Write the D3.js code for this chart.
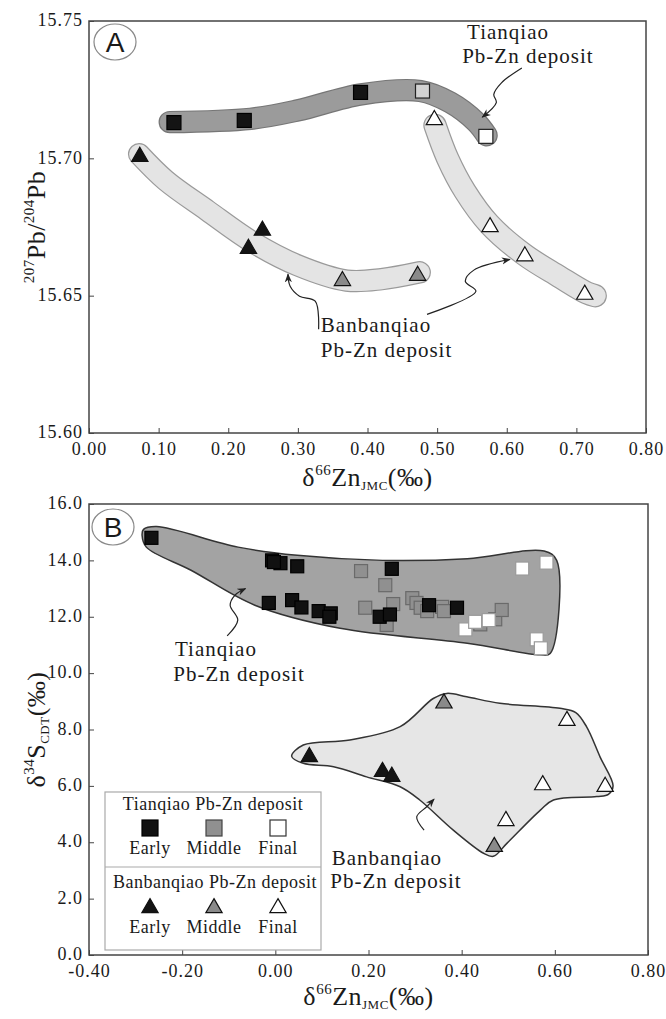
<!DOCTYPE html>
<meta charset="utf-8">
<style>
body { margin: 0; background: #fff; }
text { font-family: "Liberation Serif", "Times New Roman", serif; fill: #1a1a1a; }
.tick text { font-size: 18px; letter-spacing: 1px; fill: #1a1a1a; }
.tick line { stroke: #444; }
.frame { fill: none; stroke: #444; stroke-width: 1.5px; }
.note { font-size: 21px; letter-spacing: 1px; }
.arrow { fill: none; stroke: #222; stroke-width: 1.2px; }
.title { font-size: 26px; letter-spacing: 0.5px; }
.panel text { font-family: "Liberation Sans", Arial, sans-serif; font-size: 28px; }
.legend text { font-size: 18px; letter-spacing: 0.5px; }
</style>
<body>
<svg width="666" height="1019"></svg>
<script src="https://d3js.org/d3.v7.min.js"></script>
<script>

// ---- panel A : d66Zn vs 207Pb/204Pb ----
var aTqEarly  = [[0.122, 15.7130], [0.223, 15.7138], [0.390, 15.7240]];
var aTqMiddle = [[0.479, 15.7245]];
var aTqFinal  = [[0.570, 15.7080]];
var aBbEarly  = [[0.073, 15.7006], [0.229, 15.6671], [0.249, 15.6737]];
var aBbMiddle = [[0.364, 15.6554], [0.472, 15.6573]];
var aBbFinal  = [[0.496, 15.7140], [0.576, 15.6750], [0.626, 15.6644], [0.712, 15.6504]];

// field bands (centre lines)
var aTqBand  = [[0.116, 15.7132], [0.232, 15.7144], [0.299, 15.7174], [0.391, 15.7233],
                [0.476, 15.7245], [0.519, 15.7203], [0.556, 15.7132], [0.571, 15.7084]];
var aBbBand1 = [[0.072, 15.7015], [0.11, 15.692], [0.17, 15.681], [0.235, 15.6695],
                [0.30, 15.661], [0.37, 15.6555], [0.42, 15.656], [0.475, 15.6585]];
var aBbBand2 = [[0.497, 15.712], [0.515, 15.700], [0.54, 15.688], [0.575, 15.676],
                [0.625, 15.665], [0.675, 15.657], [0.715, 15.651], [0.727, 15.650]];

var aXTicks = [0, 0.1, 0.2, 0.3, 0.4, 0.5, 0.6, 0.7, 0.8];
var aYTicks = [15.60, 15.65, 15.70, 15.75];

// ---- panel B : d66Zn vs d34S ----
var bTqEarly = [[-0.266, 14.8], [-0.007, 14.0], [0.011, 13.9], [-0.003, 13.94], [0.047, 13.79],
                [0.25, 13.7], [-0.014, 12.49], [0.036, 12.59], [0.056, 12.33], [0.093, 12.2],
                [0.119, 12.12], [0.116, 12.0], [0.224, 12.0], [0.246, 12.08], [0.33, 12.41], [0.39, 12.32]];
var bTqMiddle = [[0.184, 13.62], [0.236, 13.12], [0.193, 12.32], [0.253, 12.45], [0.239, 11.71],
                 [0.294, 12.66], [0.303, 12.49], [0.312, 12.32], [0.326, 12.2], [0.358, 12.35],
                 [0.362, 12.2], [0.44, 11.73], [0.472, 11.91], [0.486, 12.24]];
var bTqFinal = [[0.408, 11.55], [0.429, 11.82], [0.458, 11.88], [0.53, 13.71], [0.582, 13.92],
                [0.561, 11.2], [0.57, 10.88]];
var bBbEarly  = [[0.073, 7.03], [0.23, 6.5], [0.25, 6.33]];
var bBbMiddle = [[0.362, 8.93], [0.47, 3.84]];
var bBbFinal  = [[0.495, 4.76], [0.574, 6.03], [0.626, 8.31], [0.708, 5.97]];

var bTqHull = [[-0.286, 14.88], [-0.283, 15.1], [-0.255, 15.2], [-0.08, 14.47], [0.047, 14.18],
               [0.23, 14.0], [0.412, 14.06], [0.577, 14.33], [0.604, 14.0], [0.59, 10.7],
               [0.568, 10.65], [0.412, 11.06], [0.139, 11.59], [-0.044, 12.41], [-0.181, 13.65],
               [-0.277, 14.47]];
var bBbHull = [[0.035, 7.05], [0.06, 7.45], [0.16, 7.63], [0.268, 8.1], [0.339, 9.1], [0.368, 9.28],
               [0.411, 9.16], [0.482, 8.93], [0.611, 8.75], [0.645, 8.6], [0.668, 8.1], [0.697, 7.03],
               [0.725, 6.0], [0.715, 5.7], [0.69, 5.62], [0.597, 5.5], [0.569, 5.14], [0.497, 3.96],
               [0.468, 3.5], [0.447, 3.61], [0.382, 4.43], [0.31, 5.5], [0.268, 5.97], [0.196, 6.32],
               [0.125, 6.68], [0.06, 6.8]];

var bXTicks = [-0.4, -0.2, 0, 0.2, 0.4, 0.6, 0.8];
var bYTicks = [0, 2, 4, 6, 8, 10, 12, 14, 16];

var stages = ["Early", "Middle", "Final"];

var svg = d3.select("svg");

var xA = d3.scaleLinear().domain([0, 0.8]).range([89, 646]);
var yA = d3.scaleLinear().domain([15.60, 15.75]).range([433, 21]);
var xB = d3.scaleLinear().domain([-0.4, 0.8]).range([89, 648]);
var yB = d3.scaleLinear().domain([0, 16]).range([955, 504]);

var defs = svg.append("defs");
defs.append("marker")
    .attr("id", "ah")
    .attr("viewBox", "0 0 10 10")
    .attr("refX", 9).attr("refY", 5)
    .attr("markerWidth", 9).attr("markerHeight", 9)
    .attr("markerUnits", "userSpaceOnUse")
    .attr("orient", "auto")
  .append("path")
    .attr("d", "M0,1L10,5L0,9L3,5z")
    .attr("fill", "#222");

var tri = d3.symbol().type(d3.symbolTriangle).size(115);

function axes(x, y, xt, yt, xf, yf) {
  var g = svg.append("g");
  g.append("g")
      .attr("transform", "translate(0," + y.range()[0] + ")")
      .call(d3.axisBottom(x).tickValues(xt).tickSizeInner(-5).tickSizeOuter(0).tickPadding(9).tickFormat(xf))
      .call(function(s) { s.select(".domain").remove(); });
  g.append("g")
      .attr("transform", "translate(" + x.range()[0] + ",0)")
      .call(d3.axisLeft(y).tickValues(yt).tickSizeInner(-5).tickSizeOuter(0).tickPadding(6).tickFormat(yf))
      .call(function(s) { s.select(".domain").remove(); })
      .call(function(s) { s.selectAll(".tick text").attr("dy", "0.26em"); });
  g.selectAll("g").attr("font-family", null).attr("font-size", null);
  g.selectAll(".tick text").attr("fill", null);
  g.append("rect").attr("class", "frame")
      .attr("x", x.range()[0]).attr("y", y.range()[1])
      .attr("width", x.range()[1] - x.range()[0])
      .attr("height", y.range()[0] - y.range()[1]);
}

function panelTag(cx, cy, letter) {
  var g = svg.append("g").attr("class", "panel");
  g.append("ellipse").attr("cx", cx).attr("cy", cy).attr("rx", 21).attr("ry", 18)
      .attr("fill", "#fff").attr("stroke", "#888").attr("stroke-width", 1.2);
  g.append("text").attr("x", cx).attr("y", cy + 10).attr("text-anchor", "middle").text(letter);
}

function note(x, y, lines) {
  var t = svg.append("text").attr("class", "note");
  lines.forEach(function(l) {
    t.append("tspan").attr("x", x(l[0])).attr("y", y(l[1])).text(l[2]);
  });
}

function arrow(x, y, pts) {
  svg.append("path").attr("class", "arrow")
      .attr("d", d3.line().x(function(d) { return x(d[0]); }).y(function(d) { return y(d[1]); })
                  .curve(d3.curveCatmullRom.alpha(0.5))(pts))
      .attr("marker-end", "url(#ah)");
}

function squares(x, y, data, fill, stroke, s) {
  svg.append("g").selectAll("rect").data(data).enter().append("rect")
      .attr("x", function(d) { return x(d[0]) - s / 2; })
      .attr("y", function(d) { return y(d[1]) - s / 2; })
      .attr("width", s).attr("height", s)
      .attr("fill", fill).attr("stroke", stroke).attr("stroke-width", 1.2);
}

function triangles(x, y, data, fill) {
  svg.append("g").selectAll("path").data(data).enter().append("path")
      .attr("d", tri)
      .attr("transform", function(d) { return "translate(" + x(d[0]) + "," + y(d[1]) + ")"; })
      .attr("fill", fill).attr("stroke", "#111").attr("stroke-width", 1.2);
}

var f2 = function(d) { return d.toFixed(2); };
var f1 = function(d) { return d.toFixed(1); };

// ================= Panel A =================
axes(xA, yA, aXTicks, aYTicks, f2, f2);

var bandLineA = d3.line().x(function(d) { return xA(d[0]); }).y(function(d) { return yA(d[1]); })
    .curve(d3.curveCatmullRom.alpha(0.5));

function band(pts, w, fill, edge) {
  svg.append("path").attr("d", bandLineA(pts)).attr("fill", "none")
      .attr("stroke", edge).attr("stroke-width", w + 2.4)
      .attr("stroke-linecap", "round").attr("stroke-linejoin", "round");
  svg.append("path").attr("d", bandLineA(pts)).attr("fill", "none")
      .attr("stroke", fill).attr("stroke-width", w)
      .attr("stroke-linecap", "round").attr("stroke-linejoin", "round");
}
band(aBbBand1, 20, "#e4e4e4", "#9a9a9a");
band(aBbBand2, 21, "#e4e4e4", "#9a9a9a");
band(aTqBand, 20, "#9b9b9b", "#767676");

squares(xA, yA, aTqEarly, "#141414", "#000", 14);
squares(xA, yA, aTqMiddle, "#d2d2d2", "#222", 14);
squares(xA, yA, aTqFinal, "#fff", "#222", 14);
triangles(xA, yA, aBbEarly, "#141414");
triangles(xA, yA, aBbMiddle, "#8a8a8a");
triangles(xA, yA, aBbFinal, "#fff");

note(xA, yA, [[0.543, 15.7434, "Tianqiao"], [0.536, 15.7347, "Pb-Zn deposit"]]);
note(xA, yA, [[0.333, 15.6366, "Banbanqiao"], [0.333, 15.6278, "Pb-Zn deposit"]]);
arrow(xA, yA, [[0.6217, 15.7329], [0.5924, 15.7275], [0.5814, 15.7233], [0.585, 15.7203], [0.5649, 15.715]]);
arrow(xA, yA, [[0.3298, 15.6378], [0.3249, 15.648], [0.3023, 15.6498], [0.2889, 15.6534], [0.2858, 15.6578]]);
arrow(xA, yA, [[0.4855, 15.6432], [0.5557, 15.6516], [0.5405, 15.6552], [0.5527, 15.6593], [0.6046, 15.6632]]);

panelTag(115, 42, "A");

// axis titles A
var tA = svg.append("text").attr("class", "title").attr("text-anchor", "middle")
    .attr("x", (xA.range()[0] + xA.range()[1]) / 2).attr("y", 486);
tA.append("tspan").text("δ");
tA.append("tspan").attr("font-size", 15).attr("dy", -11).text("66");
tA.append("tspan").attr("dy", 11).text("Zn");
tA.append("tspan").attr("font-size", 13).attr("dy", 4).text("JMC");
tA.append("tspan").attr("dy", -4).text("(‰)");

var yTA = svg.append("text").attr("class", "title").attr("text-anchor", "middle")
    .attr("transform", "translate(45," + (yA.range()[0] + yA.range()[1]) / 2 + ") rotate(-90)");
yTA.append("tspan").attr("font-size", 15).attr("dy", -11).text("207");
yTA.append("tspan").attr("dy", 11).text("Pb/");
yTA.append("tspan").attr("font-size", 15).attr("dy", -11).text("204");
yTA.append("tspan").attr("dy", 11).text("Pb");

// ================= Panel B =================
axes(xB, yB, bXTicks, bYTicks, f2, f1);

var hullLine = d3.line().x(function(d) { return xB(d[0]); }).y(function(d) { return yB(d[1]); })
    .curve(d3.curveCatmullRomClosed.alpha(0.5));
svg.append("path").attr("d", hullLine(bTqHull))
    .attr("fill", "#a3a3a3").attr("stroke", "#333").attr("stroke-width", 1.5);
svg.append("path").attr("d", hullLine(bBbHull))
    .attr("fill", "#e6e6e6").attr("stroke", "#333").attr("stroke-width", 1.5);

squares(xB, yB, bTqMiddle, "#909090", "#6a6a6a", 13);
squares(xB, yB, bTqFinal, "#fff", "#9a9a9a", 13);
squares(xB, yB, bTqEarly, "#111", "#000", 13);
triangles(xB, yB, bBbEarly, "#141414");
triangles(xB, yB, bBbMiddle, "#8a8a8a");
triangles(xB, yB, bBbFinal, "#fff");

note(xB, yB, [[-0.2154, 10.61, "Tianqiao"], [-0.219, 9.72, "Pb-Zn deposit"]]);
note(xB, yB, [[0.121, 3.21, "Banbanqiao"], [0.118, 2.39, "Pb-Zn deposit"]]);
arrow(xB, yB, [[-0.1034, 11.32], [-0.0806, 11.88], [-0.097, 12.41], [-0.087, 12.76], [-0.064, 13.0]]);
arrow(xB, yB, [[0.3193, 4.43], [0.3035, 4.9], [0.325, 5.26], [0.3407, 5.53]]);

panelTag(113, 527, "B");

// legend
var lg = svg.append("g").attr("class", "legend");
lg.append("rect").attr("x", 105).attr("y", 792).attr("width", 216).attr("height", 158)
    .attr("fill", "#fff").attr("stroke", "#aaa").attr("stroke-width", 1.2);
lg.append("line").attr("x1", 105).attr("x2", 321).attr("y1", 867).attr("y2", 867)
    .attr("stroke", "#aaa").attr("stroke-width", 1.2);
lg.append("text").attr("x", 213).attr("y", 810).attr("text-anchor", "middle").text("Tianqiao Pb-Zn deposit");
lg.append("text").attr("x", 215).attr("y", 888).attr("text-anchor", "middle").text("Banbanqiao Pb-Zn deposit");
var lx = [150, 214, 278];
var sqFill = ["#111", "#909090", "#fff"], sqStroke = ["#000", "#444", "#333"];
var trFill = ["#141414", "#8a8a8a", "#fff"];
stages.forEach(function(s, i) {
  lg.append("rect").attr("x", lx[i] - 8).attr("y", 820).attr("width", 16).attr("height", 16)
      .attr("fill", sqFill[i]).attr("stroke", sqStroke[i]).attr("stroke-width", 1.2);
  lg.append("text").attr("x", lx[i]).attr("y", 854).attr("text-anchor", "middle").text(s);
  lg.append("path").attr("d", tri).attr("transform", "translate(" + lx[i] + ",908)")
      .attr("fill", trFill[i]).attr("stroke", "#111").attr("stroke-width", 1.2);
  lg.append("text").attr("x", lx[i]).attr("y", 933).attr("text-anchor", "middle").text(s);
});

// axis titles B
var tB = svg.append("text").attr("class", "title").attr("text-anchor", "middle")
    .attr("x", (xB.range()[0] + xB.range()[1]) / 2).attr("y", 1005);
tB.append("tspan").text("δ");
tB.append("tspan").attr("font-size", 15).attr("dy", -11).text("66");
tB.append("tspan").attr("dy", 11).text("Zn");
tB.append("tspan").attr("font-size", 13).attr("dy", 4).text("JMC");
tB.append("tspan").attr("dy", -4).text("(‰)");

var yTB = svg.append("text").attr("class", "title").attr("text-anchor", "middle")
    .attr("transform", "translate(45," + (yB.range()[0] + yB.range()[1]) / 2 + ") rotate(-90)");
yTB.append("tspan").text("δ");
yTB.append("tspan").attr("font-size", 15).attr("dy", -11).text("34");
yTB.append("tspan").attr("dy", 11).text("S");
yTB.append("tspan").attr("font-size", 13).attr("dy", 4).text("CDT");
yTB.append("tspan").attr("dy", -4).text("(‰)");

</script>
</body>
